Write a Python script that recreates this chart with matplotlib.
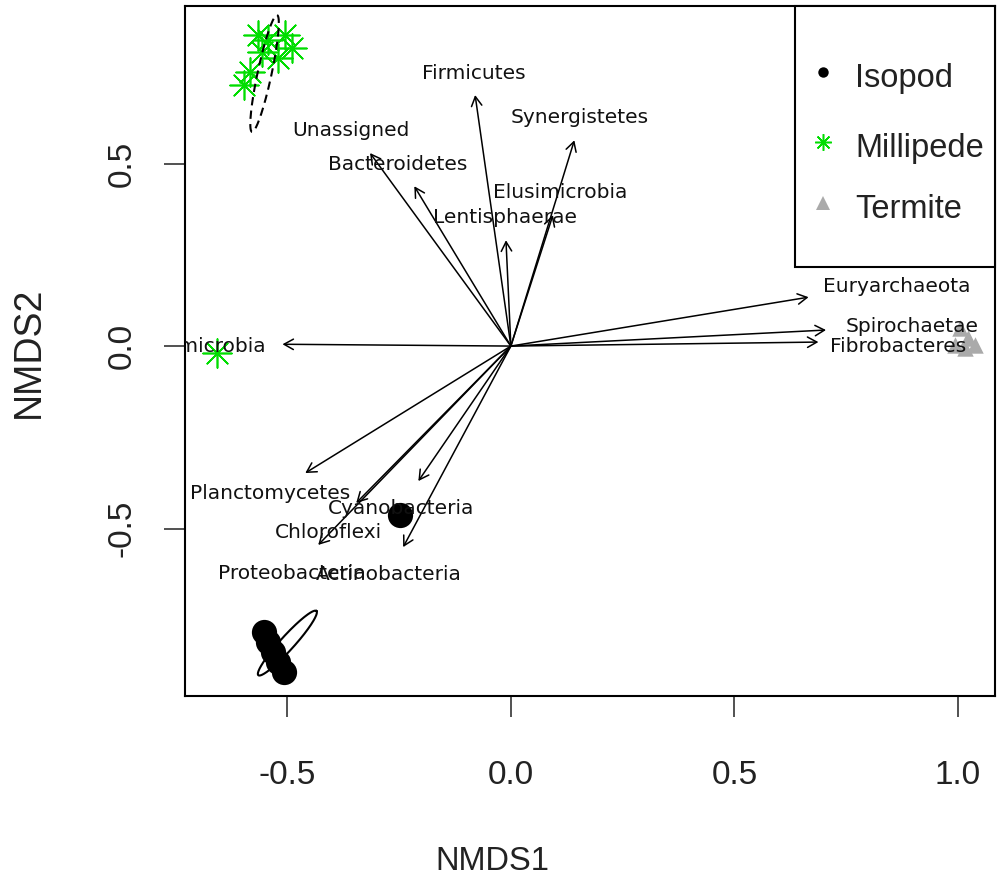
import numpy as np
import matplotlib
matplotlib.use("Agg")
import matplotlib.pyplot as plt
from matplotlib.patches import Rectangle

# NMDS site scores per group
isopod_x = [-0.552, -0.543, -0.532, -0.521, -0.507, -0.248]
isopod_y = [-0.784, -0.811, -0.838, -0.866, -0.893, -0.463]
millipede_x = [-0.543, -0.505, -0.489, -0.556, -0.583, -0.596, -0.520, -0.565, -0.657]
millipede_y = [0.838, 0.852, 0.816, 0.805, 0.751, 0.715, 0.789, 0.852, -0.019]
termite_x = [0.994, 1.017, 1.039, 1.023, 1.005]
termite_y = [0.003, -0.005, 0.003, 0.022, 0.049]

# ordiellipse outlines: centre, semi-major and semi-minor vectors (data units)
ell_isopod = dict(c=(-0.500, -0.814), a=(0.065, 0.088), b=(0.0116, -0.0129))
ell_millipede = dict(c=(-0.551, 0.747), a=(0.028, 0.160), b=(0.0153, -0.0040))

# envfit vectors: arrow tips and label positions
phyla = ["Firmicutes", "Synergistetes", "Unassigned", "Bacteroidetes",
         "Elusimicrobia", "Lentisphaerae", "Euryarchaeota", "Spirochaetae",
         "Fibrobacteres", "Verrucomicrobia", "Planctomycetes", "Cyanobacteria",
         "Chloroflexi", "Proteobacteria", "Actinobacteria"]
arrow_x = [-0.080, 0.142, -0.315, -0.216, 0.094, -0.011, 0.666, 0.705,
           0.688, -0.511, -0.460, -0.207, -0.346, -0.431, -0.241]
arrow_y = [0.688, 0.564, 0.529, 0.438, 0.359, 0.290, 0.134, 0.044,
           0.011, 0.005, -0.348, -0.370, -0.430, -0.545, -0.551]
label_x = [-0.083, 0.154, -0.358, -0.253, 0.110, -0.013, 0.863, 0.898,
           0.867, -0.731, -0.538, -0.245, -0.408, -0.491, -0.274]
label_y = [0.747, 0.626, 0.590, 0.497, 0.422, 0.353, 0.162, 0.055,
           0.000, 0.000, -0.403, -0.444, -0.510, -0.622, -0.627]

groups = ["Isopod", "Millipede", "Termite"]
green = "#00DD00"
grey = "#AAAAAA"

sans = ["Liberation Sans", "DejaVu Sans"]

fig = plt.figure(figsize=(9.97, 8.93), dpi=100)
ax = fig.add_axes([185 / 997, 1 - 696 / 893, 810 / 997, 690 / 893])

# points
ax.scatter(isopod_x, isopod_y, s=330, color="black", marker="o", lw=0, zorder=2)
ax.scatter(millipede_x, millipede_y, s=430, color=green, marker=(8, 2, 0),
           lw=1.2, zorder=2)
ax.scatter(termite_x, termite_y, s=140, color=grey, marker="^", lw=0, zorder=2)


def draw_ellipse(e, **kw):
    t = np.linspace(0, 2 * np.pi, 200)
    cx, cy = e["c"]
    ex = cx + e["a"][0] * np.cos(t) + e["b"][0] * np.sin(t)
    ey = cy + e["a"][1] * np.cos(t) + e["b"][1] * np.sin(t)
    ax.plot(ex, ey, color="black", zorder=3, **kw)


draw_ellipse(ell_isopod, lw=1.5)
draw_ellipse(ell_millipede, lw=1.5, ls=(0, (4, 2.5)))

# envfit arrows
for name, x, y, lx, ly in zip(phyla, arrow_x, arrow_y, label_x, label_y):
    ax.annotate("", xy=(x, y), xytext=(0, 0),
                arrowprops=dict(arrowstyle="->,head_length=0.45,head_width=0.25",
                                lw=1.1, color="black", shrinkA=0, shrinkB=0,
                                mutation_scale=15),
                zorder=4)
    ax.text(lx, ly, name, ha="center", va="center", fontsize=14.5,
            family="DejaVu Sans", color="#111111", clip_on=True, zorder=5)

ax.set_xlim(-0.729, 1.083)
ax.set_ylim(-0.959, 0.932)
ax.set_xticks([-0.5, 0.0, 0.5, 1.0])
ax.set_yticks([-0.5, 0.0, 0.5])
ax.set_xticklabels(["-0.5", "0.0", "0.5", "1.0"], family=sans, fontsize=24)
ax.set_yticklabels(["-0.5", "0.0", "0.5"], family=sans, fontsize=24,
                   rotation=90, va="center")
ax.tick_params(axis="x", length=15, width=1.1, pad=31, colors="#222222")
ax.tick_params(axis="y", length=15, width=1.1, pad=19, colors="#222222")
for sp in ax.spines.values():
    sp.set_linewidth(1.5)

ax.set_xlabel("NMDS1", family=sans, fontsize=23.5, color="#222222")
ax.set_ylabel("NMDS2", family=sans, fontsize=27, color="#222222")
ax.xaxis.set_label_coords((492 - 185) / 810, (696 - 862) / 690)
ax.xaxis.label.set_va("center")
ax.yaxis.set_label_coords((29 - 185) / 810, 0.4986)
ax.yaxis.label.set_va("center")

# legend box drawn in axes fraction
ax.add_patch(Rectangle((0.7531, 0.6217), 1 - 0.7531, 1 - 0.6217,
                       transform=ax.transAxes, fill=True, facecolor="white",
                       edgecolor="black", lw=1.5, zorder=6, clip_on=False))
row_y = [0.9043, 0.8029, 0.7145]
styles = [dict(marker="o", ms=7.5, color="black", mew=0),
          dict(marker=(8, 2, 0), ms=12, color=green, mew=1.1),
          dict(marker="^", ms=10, color=grey, mew=0)]
for g, yy, st in zip(groups, row_y, styles):
    ax.plot([0.7877], [yy], transform=ax.transAxes, ls="none", zorder=7,
            clip_on=False, **st)
    ax.text(0.8272, yy - 15 / 690, g, transform=ax.transAxes, ha="left",
            va="baseline", fontsize=23.5, family=sans, color="#222222", zorder=7)

fig.savefig("out.png", dpi=100)
